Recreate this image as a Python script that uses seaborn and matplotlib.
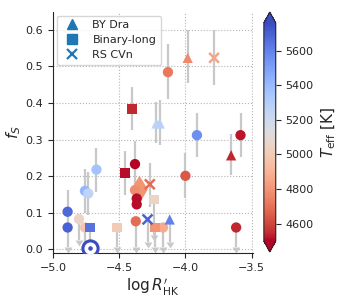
import numpy as np
import pandas as pd
import matplotlib
matplotlib.use("Agg")
import matplotlib.pyplot as plt
import matplotlib.lines as mlines
from matplotlib.colors import Normalize
from matplotlib.cm import ScalarMappable
import seaborn as sns

# star data: activity index, spot filling factor, Teff and class
log_rhk = [-4.89, -4.89, -4.672, -4.759, -4.734, -4.804, -4.759, -4.721, -4.517,
           -4.455, -4.381, -4.381, -4.269, -4.239, -4.368, -4.368, -4.375, -4.286,
           -4.231, -4.169, -4.119, -4.0, -3.913, -3.584, -3.655, -3.617,
           -4.219, -4.194, -4.405, -4.132, -3.983, -3.784]
f_s = [0.103, 0.060, 0.218, 0.160, 0.153, 0.083, 0.060, 0.060, 0.060,
       0.209, 0.233, 0.162, 0.178, 0.136, 0.139, 0.123, 0.077, 0.082,
       0.060, 0.060, 0.082, 0.201, 0.312, 0.312, 0.257, 0.060,
       0.344, 0.344, 0.384, 0.484, 0.523, 0.523]
teff = [5680, 5700, 5360, 5420, 5260, 5060, 4980, 5650, 5000,
        4510, 4500, 4780, 4690, 5060, 4510, 4510, 4690, 5700,
        4800, 4870, 5600, 4640, 5560, 4520, 4540, 4540,
        5260, 5280, 4540, 4720, 4770, 4850]
kind = ['single', 'single', 'single', 'single', 'single', 'single', 'single', 'Binary-long', 'Binary-long',
        'Binary-long', 'single', 'single', 'RS CVn', 'Binary-long', 'single', 'single', 'single', 'RS CVn',
        'Binary-long', 'single', 'BY Dra', 'single', 'single', 'single', 'BY Dra', 'single',
        'BY Dra', 'BY Dra', 'Binary-long', 'single', 'BY Dra', 'RS CVn']
# lower / upper ends of the error bars, and upper-limit flags
f_lo = [0.045, 0.006, 0.157, 0.100, 0.095, 0.025, 0.006, 0.006, 0.006,
        0.150, 0.170, 0.162, 0.116, 0.039, 0.139, 0.123, 0.007, 0.020,
        0.006, 0.006, 0.020, 0.140, 0.253, 0.253, 0.203, 0.006,
        0.290, 0.285, 0.325, 0.410, 0.453, 0.448]
f_hi = [0.162, 0.060, 0.276, 0.219, 0.212, 0.083, 0.060, 0.060, 0.060,
        0.270, 0.295, 0.162, 0.236, 0.136, 0.139, 0.123, 0.077, 0.082,
        0.060, 0.060, 0.082, 0.264, 0.372, 0.372, 0.316, 0.060,
        0.402, 0.407, 0.443, 0.560, 0.598, 0.600]
is_limit = [0, 1, 0, 0, 0, 1, 1, 1, 1,
            0, 0, 0, 0, 1, 0, 0, 1, 1,
            1, 1, 1, 0, 0, 0, 0, 1,
            0, 0, 0, 0, 0, 0]

# odd diamond-shaped star
diamond_x, diamond_y, diamond_t = -4.351, 0.166, 4800
# the Sun
sun_x, sun_y, sun_t = -4.721, 0.003, 5772

df = pd.DataFrame({'logR': log_rhk, 'fS': f_s, 'Teff': teff, 'kind': kind,
                   'lo': f_lo, 'hi': f_hi, 'lim': np.array(is_limit, bool)})

cmap = plt.get_cmap('coolwarm_r')
norm = Normalize(vmin=4500, vmax=5760)

sns.set_style('ticks')
fig = plt.figure(figsize=(3.4, 3.01), dpi=100)
ax = fig.add_axes([0.156, 0.159, 0.588, 0.801])
cax = fig.add_axes([0.776, 0.163, 0.035, 0.797])

ebar_col = '#c8c8c8'
ax.errorbar(df['logR'], df['fS'], yerr=[df['fS'] - df['lo'], df['hi'] - df['fS']],
            fmt='none', ecolor=ebar_col, elinewidth=1.6, zorder=1)
lims = df[df['lim']]
ax.scatter(lims['logR'], lims['lo'], marker=mlines.CARETDOWNBASE, s=32,
           color=ebar_col, linewidths=0, zorder=1)
ax.errorbar([-4.89, -4.89], [0.103, 0.060], xerr=0.03, fmt='none', ecolor=ebar_col,
            elinewidth=1.6, zorder=1)

markers = {'single': 'o', 'BY Dra': '^', 'Binary-long': 's'}
for k, m in markers.items():
    sub = df[df['kind'] == k]
    sns.scatterplot(data=sub, x='logR', y='fS', hue='Teff', palette=cmap, hue_norm=norm,
                    marker=m, s=55 if m != 's' else 48, linewidth=0, legend=False,
                    ax=ax, zorder=3)
sub = df[df['kind'] == 'RS CVn']
ax.scatter(sub['logR'], sub['fS'], c=sub['Teff'], cmap=cmap, norm=norm, marker='x',
           s=50, linewidths=1.8, zorder=3)
ax.scatter([diamond_x], [diamond_y], c=[diamond_t], cmap=cmap, norm=norm, marker='d',
           s=200, linewidths=0, zorder=2)
ax.scatter([sun_x], [sun_y], s=120, facecolor='white', edgecolor=cmap(norm(sun_t)),
           linewidths=2.2, zorder=4)
ax.scatter([sun_x], [sun_y], s=5, color=cmap(norm(sun_t)), zorder=5)

ax.set_xlim(-5.0, -3.49)
ax.set_ylim(-0.01, 0.648)
ax.set_xticks([-5.0, -4.5, -4.0, -3.5])
ax.set_yticks(np.arange(0, 0.61, 0.1))
ax.grid(True, linestyle=':', linewidth=0.8, color='#b5b5b5')
ax.tick_params(labelsize=8, length=3.5)
ax.set_xlabel(r"$\log R^\prime_{\rm HK}$", fontsize=11, labelpad=3)
ax.set_ylabel(r"$f_S$", fontsize=11, labelpad=2)
sns.despine(ax=ax)

handles = [mlines.Line2D([], [], marker='^', color='tab:blue', ls='', ms=7),
           mlines.Line2D([], [], marker='s', color='tab:blue', ls='', ms=6.5),
           mlines.Line2D([], [], marker='x', color='tab:blue', ls='', ms=6.5, mew=1.6)]
ax.legend(handles, ['BY Dra', 'Binary-long', 'RS CVn'], loc='upper left', fontsize=8,
          handletextpad=0.8, borderaxespad=0.35, labelspacing=0.45)

sm = ScalarMappable(norm=norm, cmap=cmap)
cb = fig.colorbar(sm, cax=cax, extend='both')
cb.set_ticks([4600, 4800, 5000, 5200, 5400, 5600])
cb.ax.tick_params(labelsize=8, length=3.5)
cb.set_label(r"$T_{\rm eff}$ [K]", fontsize=11)

fig.savefig('out.png', dpi=100)
